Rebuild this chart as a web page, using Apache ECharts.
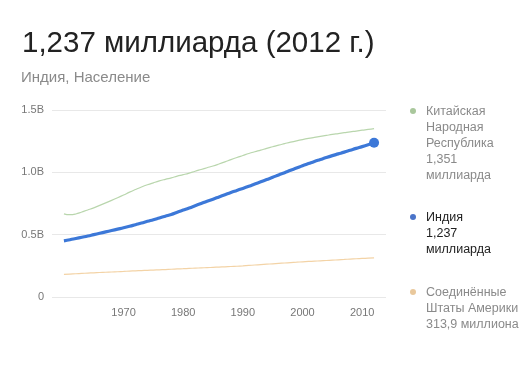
<!DOCTYPE html>
<html><head><meta charset="utf-8">
<script src="https://cdn.jsdelivr.net/npm/echarts@6/dist/echarts.min.js"></script>
<style>html,body{margin:0;padding:0;background:#fff}#c{width:530px;height:367px}</style>
</head><body><div id="c"></div>
<script>
const titleText = '1,237 миллиарда (2012 г.)';
const subtitleText = 'Индия, Население';
const startYear = 1960;
const xTickLabels = [1970, 1980, 1990, 2000, 2010];
// populations in millions, 1960..2012
const china = [667,660,666,682,698,715,735,755,775,796,818,841,862,882,900,916,931,944,956,969,981,994,1009,1023,1037,1051,1067,1084,1102,1119,1135,1151,1165,1178,1192,1205,1218,1230,1242,1253,1263,1272,1280,1288,1296,1304,1311,1318,1325,1331,1338,1344,1351];
const india = [450,459,469,479,489,500,511,522,533,544,555,567,580,593,607,620,634,648,662,680,697,714,732,750,768,785,803,821,839,855,871,888,906,924,942,960,979,997,1016,1034,1053,1070,1087,1103,1119,1134,1148,1162,1177,1192,1206,1221,1237];
const usa = [180.7,183.7,186.5,189.2,191.9,194.3,196.6,198.7,200.7,202.7,205.1,207.7,209.9,211.9,213.9,216.0,218.0,220.2,222.6,225.1,227.2,229.5,231.7,233.8,235.8,237.9,240.1,242.3,244.5,246.8,249.6,253.0,256.5,259.9,263.1,266.3,269.4,272.7,275.9,279.0,282.2,285.0,287.6,290.1,292.8,295.5,298.4,301.2,304.1,306.8,309.3,311.6,313.9];
const seriesNames = ['Китайская Народная Республика', 'Индия', 'Соединённые Штаты Америки'];
const legendLines = [
  ['Китайская', 'Народная', 'Республика', '1,351', 'миллиарда'],
  ['Индия', '1,237', 'миллиарда'],
  ['Соединённые', 'Штаты Америки', '313,9 миллиона']
];

const toPairs = arr => arr.map((v, i) => [startYear + i, v * 1e6]);
const colors = {line: ['#b9d6ad', '#3c78d8', '#f3d3a6'], dot: ['#a9c79c', '#4a74c9', '#e9c89c'], text: ['#8a8a8a', '#222', '#8a8a8a']};
const chart = echarts.init(document.getElementById('c'));
const font = '"Liberation Sans", Arial, sans-serif';

const legendTops = [103, 209, 284];
const graphic = [];
legendLines.forEach((lines, k) => {
  graphic.push({type: 'circle', left: 410, top: legendTops[k] + 5, shape: {r: 3}, style: {fill: colors.dot[k]}, silent: true});
  graphic.push({type: 'text', left: 426, top: legendTops[k], style: {text: lines.join('\n'), fill: colors.text[k], font: '12.5px ' + font, lineHeight: 16.2}, silent: true});
});

chart.setOption({
  animation: false,
  textStyle: {fontFamily: font},
  title: [
    {text: titleText, left: 17, top: 24, textStyle: {fontSize: 29.5, fontWeight: 'normal', color: '#222', fontFamily: font}},
    {text: subtitleText, left: 16, top: 65, textStyle: {fontSize: 15, fontWeight: 'normal', color: '#8a8a8a', fontFamily: font}}
  ],
  grid: {left: 52, right: 144, top: 110, bottom: 70},
  xAxis: {
    type: 'value', min: 1958, max: 2014,
    axisLine: {show: false}, axisTick: {show: false}, splitLine: {show: false},
    axisLabel: {customValues: xTickLabels, color: '#777', fontSize: 11, margin: 10, formatter: v => String(v)}
  },
  yAxis: {
    type: 'value', min: 0, max: 1.5e9, interval: 0.5e9,
    axisLine: {show: false}, axisTick: {show: false},
    splitLine: {lineStyle: {color: '#e8e8e8'}},
    axisLabel: {color: '#777', fontSize: 11, margin: 8, formatter: v => v === 0 ? '0' : (v / 1e9).toFixed(1) + 'B'}
  },
  graphic: graphic,
  series: [
    {name: seriesNames[2], type: 'line', data: toPairs(usa), smooth: true, showSymbol: false, lineStyle: {color: colors.line[2], width: 1.2}},
    {name: seriesNames[0], type: 'line', data: toPairs(china), smooth: true, showSymbol: false, lineStyle: {color: colors.line[0], width: 1.2}},
    {name: seriesNames[1], type: 'line', data: toPairs(india), smooth: true, symbol: 'circle',
      showAllSymbol: true,
      itemStyle: {color: colors.line[1]},
      lineStyle: {color: colors.line[1], width: 3.2},
      symbolSize: (v, p) => p.dataIndex === india.length - 1 ? 10 : 0}
  ]
});
</script></body></html>
